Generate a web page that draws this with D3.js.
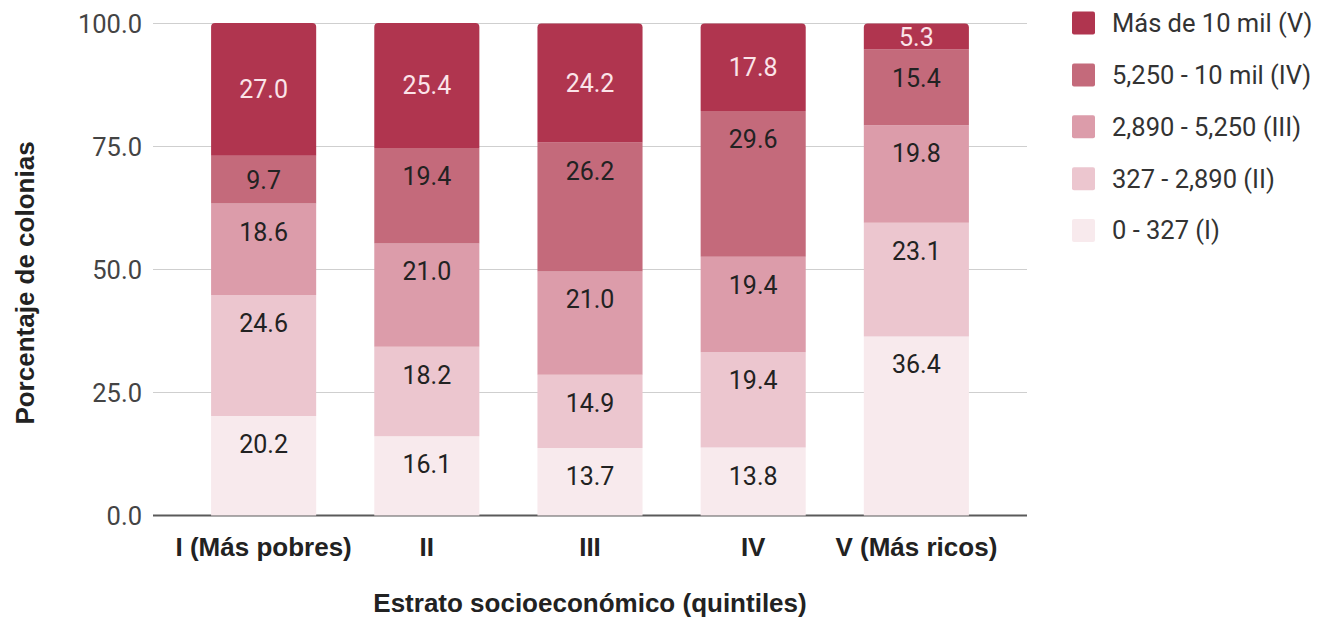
<!DOCTYPE html>
<html>
<head>
<meta charset="utf-8">
<script src="https://cdn.jsdelivr.net/npm/d3@7"></script>
<style>
  html, body { margin: 0; padding: 0; background: #fff; }
  svg { display: block; }
</style>
</head>
<body>
<svg id="chart" width="1319" height="625"></svg>
<script>
// ---- Data ----
const categories = ["I (Más pobres)", "II", "III", "IV", "V (Más ricos)"];
const seriesNames = ["0 - 327 (I)", "327 - 2,890 (II)", "2,890 - 5,250 (III)", "5,250 - 10 mil (IV)", "Más de 10 mil (V)"];
const serieI   = [20.2, 16.1, 13.7, 13.8, 36.4];
const serieII  = [24.6, 18.2, 14.9, 19.4, 23.1];
const serieIII = [18.6, 21.0, 21.0, 19.4, 19.8];
const serieIV  = [9.7, 19.4, 26.2, 29.6, 15.4];
const serieV   = [27.0, 25.4, 24.2, 17.8, 5.3];
const yTicks = [0, 25, 50, 75, 100];
const colors = ["#f8eaed", "#ecc6cf", "#dc9caa", "#c46a7b", "#b0354f"];

// ---- Layout ----
const svg = d3.select("#chart");
const x0 = 153, x1 = 1027, yBottom = 515.5, yTop = 23.5;
const x = d3.scaleBand().domain(categories).range([x0, x1]).paddingInner(0.356).paddingOuter(0.356);
const y = d3.scaleLinear().domain([0, 100]).range([yBottom, yTop]);

const allSeries = [serieI, serieII, serieIII, serieIV, serieV];
const table = categories.map((c, i) => {
  const row = { cat: c };
  seriesNames.forEach((s, k) => row[s] = allSeries[k][i]);
  return row;
});
const stacked = d3.stack().keys(seriesNames)(table);

// Gridlines
const grid = svg.append("g");
grid.selectAll("line").data(yTicks.filter(t => t !== 0)).join("line")
  .attr("x1", x0).attr("x2", x1)
  .attr("y1", d => y(d)).attr("y2", d => y(d))
  .attr("stroke", "#cfcfcf").attr("stroke-width", 1);
// baseline
svg.append("line").attr("x1", x0).attr("x2", x1).attr("y1", y(0)).attr("y2", y(0))
  .attr("stroke", "#5a5a5a").attr("stroke-width", 2);

// Y axis labels
const yAxis = d3.axisLeft(y).tickValues(yTicks).tickFormat(d3.format(".1f")).tickSize(0).tickPadding(0);
const yg = svg.append("g").attr("transform", `translate(142,0)`).call(yAxis);
yg.select(".domain").remove();
yg.selectAll("text").attr("font-family", "Roboto, 'Liberation Sans', Arial, sans-serif")
  .attr("font-size", 25.5).attr("fill", "#444").attr("dy", "0.35em");

// Bars
const r = 4;
function segPath(x, yt, w, h, rounded) {
  if (!rounded) return `M${x},${yt}h${w}v${h}h${-w}Z`;
  return `M${x},${yt + h}V${yt + r}Q${x},${yt} ${x + r},${yt}H${x + w - r}Q${x + w},${yt} ${x + w},${yt + r}V${yt + h}Z`;
}
const bw = x.bandwidth();
const layers = svg.append("g").selectAll("g").data(stacked).join("g")
  .attr("fill", (d, i) => colors[i]);
layers.selectAll("path").data(d => d.map(v => ({ v, key: d.key, idx: d.index }))).join("path")
  .attr("d", d => segPath(x(d.v.data.cat), y(d.v[1]), bw, y(d.v[0]) - y(d.v[1]), d.idx === seriesNames.length - 1));

// Value labels
const labels = svg.append("g");
stacked.forEach((layer, i) => {
  const last = i === seriesNames.length - 1;
  layer.forEach(v => {
    const top = y(v[1]), bot = y(v[0]);
    const center = (top + bot) / 2;
    const ly = last ? center : Math.min(center, top + 28);
    labels.append("text")
      .attr("x", x(v.data.cat) + bw / 2)
      .attr("y", ly)
      .attr("dy", "0.36em")
      .attr("text-anchor", "middle")
      .attr("font-family", "Roboto, 'Liberation Sans', Arial, sans-serif")
      .attr("font-size", 25)
      .attr("fill", last ? "#fbe4e9" : "#222")
      .text((v[1] - v[0]).toFixed(1));
  });
});

// X axis category labels
const xAxis = d3.axisBottom(x).tickSize(0).tickPadding(0);
const xg = svg.append("g").attr("transform", `translate(0,547)`).call(xAxis);
xg.select(".domain").remove();
xg.selectAll("text").attr("font-family", "'Liberation Sans', Arial, sans-serif")
  .attr("font-weight", "bold").attr("font-size", 26).attr("fill", "#222").attr("dy", "0.35em");

// Axis titles
svg.append("text").attr("x", 590).attr("y", 603).attr("dy", "0.35em").attr("text-anchor", "middle")
  .attr("font-family", "'Liberation Sans', Arial, sans-serif").attr("font-weight", "bold")
  .attr("font-size", 26).attr("fill", "#222").text("Estrato socioeconómico (quintiles)");
svg.append("text").attr("transform", "translate(25,283) rotate(-90)").attr("dy", "0.35em").attr("text-anchor", "middle")
  .attr("font-family", "'Liberation Sans', Arial, sans-serif").attr("font-weight", "bold")
  .attr("font-size", 26).attr("fill", "#222").text("Porcentaje de colonias");

// Legend (top series first)
const legendOrder = seriesNames.map((s, i) => ({ s, c: colors[i] })).reverse();
const legendY = d3.scalePoint().domain(legendOrder.map(d => d.s)).range([23, 230.5]);
const lg = svg.append("g").selectAll("g").data(legendOrder).join("g")
  .attr("transform", d => `translate(1072,${legendY(d.s)})`);
lg.append("rect").attr("x", 0).attr("y", -11.5).attr("width", 23).attr("height", 23).attr("rx", 2).attr("fill", d => d.c);
lg.append("text").attr("x", 40).attr("dy", "0.35em")
  .attr("font-family", "Roboto, 'Liberation Sans', Arial, sans-serif")
  .attr("font-size", 25.5).attr("fill", "#333").text(d => d.s);
</script>
</body>
</html>
